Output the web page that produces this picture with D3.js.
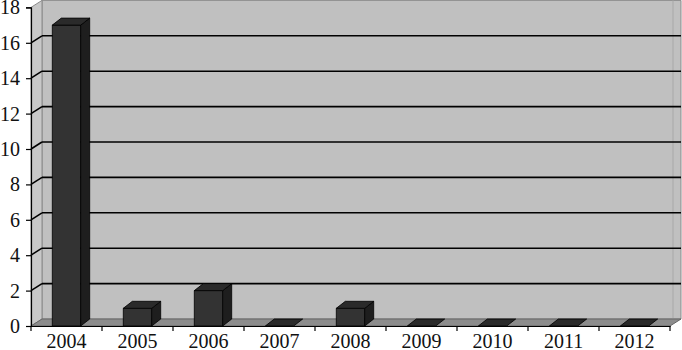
<!DOCTYPE html>
<html>
<head>
<meta charset="utf-8">
<script src="https://cdn.jsdelivr.net/npm/d3@7"></script>
<style>
  body { margin: 0; background: #fff; }
  svg text { font-family: "Liberation Serif", "Times New Roman", serif; font-size: 20px; fill: #111; }
</style>
</head>
<body>
<div id="container"></div>
<script>
// chart data
const years = ["2004", "2005", "2006", "2007", "2008", "2009", "2010", "2011", "2012"];
const counts = [17, 1, 2, 0, 1, 0, 0, 0, 0];
const yTicks = [0, 2, 4, 6, 8, 10, 12, 14, 16, 18];

// layout
const width = 682, height = 350;
const plot = { left: 31, right: 670, bottom: 326, top: 7.4 };
const depth = { dx: 11, dy: -7 };      // wall depth
const barDepth = { dx: 9, dy: -7 };    // bar depth

const svg = d3.select("#container")
  .append("svg")
  .attr("width", width)
  .attr("height", height);

/*==============================
  SCALES
===============================*/
const x = d3.scaleBand()
  .domain(years)
  .range([plot.left, plot.right])
  .padding(0);

const y = d3.scaleLinear()
  .domain([0, 18])
  .range([plot.bottom, plot.top]);

const barW = x.bandwidth() * 0.4;

const pts = arr => arr.map(p => p.join(",")).join(" ");

/*==============================
  WALLS AND FLOOR
===============================*/
// back wall
svg.append("polygon")
  .attr("points", pts([
    [plot.left + depth.dx, y(18) + depth.dy], [plot.right + depth.dx, y(18) + depth.dy],
    [plot.right + depth.dx, y(0) + depth.dy], [plot.left + depth.dx, y(0) + depth.dy]
  ]))
  .attr("fill", "#c0c0c0")
  .attr("stroke", "#8a8a8a");

// right edge strip of the back wall
svg.append("line")
  .attr("x1", plot.right + 3).attr("x2", plot.right + 3)
  .attr("y1", y(18) + depth.dy).attr("y2", y(0) + depth.dy)
  .attr("stroke", "#a8a8a8");

// side wall
svg.append("polygon")
  .attr("points", pts([
    [plot.left, y(18)], [plot.left + depth.dx, y(18) + depth.dy],
    [plot.left + depth.dx, y(0) + depth.dy], [plot.left, y(0)]
  ]))
  .attr("fill", "#c8c8c8")
  .attr("stroke", "#8a8a8a");

// floor
svg.append("polygon")
  .attr("points", pts([
    [plot.left, y(0)], [plot.right, y(0)],
    [plot.right + depth.dx, y(0) + depth.dy], [plot.left + depth.dx, y(0) + depth.dy]
  ]))
  .attr("fill", "#8c8c8c")
  .attr("stroke", "#666");

/*==============================
  GRIDLINES
===============================*/
const grid = svg.append("g").attr("stroke", "#000").attr("stroke-width", 1.6);
yTicks.filter(t => t > 0 && t < 18).forEach(t => {
  grid.append("line")
    .attr("x1", plot.left + depth.dx).attr("x2", plot.right + depth.dx)
    .attr("y1", y(t) + depth.dy).attr("y2", y(t) + depth.dy);
  grid.append("line")
    .attr("x1", plot.left).attr("x2", plot.left + depth.dx)
    .attr("y1", y(t)).attr("y2", y(t) + depth.dy);
});

/*==============================
  BARS
===============================*/
const bars = svg.selectAll("g.bar")
  .data(years.map((d, i) => ({ year: d, value: counts[i] })))
  .enter()
  .append("g")
  .attr("class", "bar")
  .attr("stroke", "#000")
  .attr("stroke-width", 0.8);

bars.each(function(d) {
  const g = d3.select(this);
  const x0 = x(d.year) + (x.bandwidth() - barW) / 2;
  const x1 = x0 + barW;
  const yt = y(d.value), yb = y(0);
  const { dx, dy } = barDepth;
  if (d.value > 0) {
    // front face
    g.append("polygon")
      .attr("points", pts([[x0, yt], [x1, yt], [x1, yb], [x0, yb]]))
      .attr("fill", "#333333");
    // right side
    g.append("polygon")
      .attr("points", pts([[x1, yt], [x1 + dx, yt + dy], [x1 + dx, yb + dy], [x1, yb]]))
      .attr("fill", "#1e1e1e");
  }
  // top face
  g.append("polygon")
    .attr("points", pts([[x0, yt], [x1, yt], [x1 + dx, yt + dy], [x0 + dx, yt + dy]]))
    .attr("fill", "#2a2a2a");
});

/*==============================
  AXES
===============================*/
const yAxis = d3.axisLeft(y)
  .tickValues(yTicks)
  .tickSize(5)
  .tickPadding(6);

svg.append("g")
  .attr("transform", `translate(${plot.left}, 0)`)
  .call(yAxis)
  .call(g => g.selectAll("line, path").attr("stroke", "#000").attr("stroke-width", 1.2))
  .call(g => g.selectAll("text").style("font-size", "20px"));

const xAxis = d3.axisBottom(x)
  .tickSize(0)
  .tickPadding(8);

svg.append("g")
  .attr("transform", `translate(0, ${plot.bottom})`)
  .call(xAxis)
  .call(g => g.select(".domain").attr("stroke", "#000").attr("stroke-width", 1.2))
  .call(g => g.selectAll("text").style("font-size", "20px"));

// category boundary ticks
svg.append("g")
  .attr("stroke", "#000")
  .attr("stroke-width", 1.2)
  .selectAll("line")
  .data(years.map(d => x(d)).concat([plot.right]))
  .enter()
  .append("line")
  .attr("x1", d => d).attr("x2", d => d)
  .attr("y1", plot.bottom).attr("y2", plot.bottom + 5);
</script>
</body>
</html>
